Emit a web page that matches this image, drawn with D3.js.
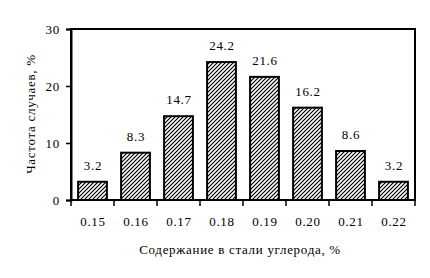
<!DOCTYPE html>
<meta charset="utf-8">
<head>
    <script src="https://d3js.org/d3.v7.min.js"></script>
    <style>
        body { margin: 0; background: #fff; }
        text { font-family: "Liberation Serif", "Times New Roman", serif; font-size: 13px; letter-spacing: 0.7px; fill: #000; }
    </style>
</head>
<body>
<script>
    // chart data
    var categories = ["0.15", "0.16", "0.17", "0.18", "0.19", "0.20", "0.21", "0.22"];
    var values = [3.2, 8.3, 14.7, 24.2, 21.6, 16.2, 8.6, 3.2];
    var yTicks = [0, 10, 20, 30];

    var width = 430, height = 278;
    var margin = { top: 29, right: 15, bottom: 78, left: 71 };

    var svg = d3.select("body").append("svg")
        .attr("width", width)
        .attr("height", height);

    // hatch pattern ////
    var pat = svg.append("defs").append("pattern")
        .attr("id", "hatch")
        .attr("patternUnits", "userSpaceOnUse")
        .attr("width", 4)
        .attr("height", 4);
    pat.append("rect").attr("width", 4).attr("height", 4).attr("fill", "#fff");
    pat.append("path")
        .attr("d", "M-1,1 l2,-2 M0,4 l4,-4 M3,5 l2,-2")
        .attr("stroke", "#000")
        .attr("stroke-width", 1.2);

    var x = d3.scaleBand()
        .domain(categories)
        .range([margin.left, width - margin.right])
        .paddingInner(0.33)
        .paddingOuter(0.165);

    var y = d3.scaleLinear()
        .domain([0, 30])
        .range([height - margin.bottom, margin.top]);

    // frame
    svg.append("rect")
        .attr("x", margin.left)
        .attr("y", margin.top)
        .attr("width", width - margin.right - margin.left)
        .attr("height", height - margin.bottom - margin.top)
        .attr("fill", "none")
        .attr("stroke", "#000")
        .attr("stroke-width", 2);

    // bars
    svg.selectAll(".bar")
        .data(values)
        .enter().append("rect")
        .attr("class", "bar")
        .attr("x", function (d, i) { return x(categories[i]); })
        .attr("y", function (d) { return y(d); })
        .attr("width", x.bandwidth())
        .attr("height", function (d) { return y(0) - y(d); })
        .attr("fill", "url(#hatch)")
        .attr("stroke", "#000")
        .attr("stroke-width", 2);

    // value labels
    svg.selectAll(".lbl")
        .data(values)
        .enter().append("text")
        .attr("class", "lbl")
        .attr("x", function (d, i) { return x(categories[i]) + x.bandwidth() / 2 + 0.5; })
        .attr("y", function (d) { return y(d) - 12; })
        .attr("text-anchor", "middle")
        .text(function (d) { return d.toFixed(1); });

    // y axis
    var yAxis = svg.append("g")
        .attr("transform", "translate(" + margin.left + ",0)")
        .call(d3.axisLeft(y).tickValues(yTicks).tickSize(5).tickPadding(6));
    yAxis.select(".domain").attr("stroke-width", 2);
    yAxis.selectAll(".tick line").attr("stroke-width", 1.5);

    // x axis: ticks at band boundaries
    var xAxis = svg.append("g")
        .attr("transform", "translate(0," + y(0) + ")");
    var bounds = categories.map(function (c) { return x(c) - x.step() * x.paddingInner() / 2; });
    bounds.push(width - margin.right);
    xAxis.selectAll("line")
        .data(bounds)
        .enter().append("line")
        .attr("x1", function (d) { return d; })
        .attr("x2", function (d) { return d; })
        .attr("y1", 0)
        .attr("y2", 6)
        .attr("stroke", "#000")
        .attr("stroke-width", 1.5);
    xAxis.selectAll("text")
        .data(categories)
        .enter().append("text")
        .attr("x", function (d) { return x(d) + x.bandwidth() / 2 + 0.5; })
        .attr("y", 26)
        .attr("text-anchor", "middle")
        .text(function (d) { return d; });

    // axis titles
    svg.append("text")
        .attr("x", 240)
        .attr("y", 254)
        .attr("text-anchor", "middle")
        .text("Содержание в стали углерода, %");

    svg.append("text")
        .attr("transform", "translate(35,114) rotate(-90)")
        .attr("text-anchor", "middle")
        .text("Частота случаев, %");
</script>
</body>
</html>
